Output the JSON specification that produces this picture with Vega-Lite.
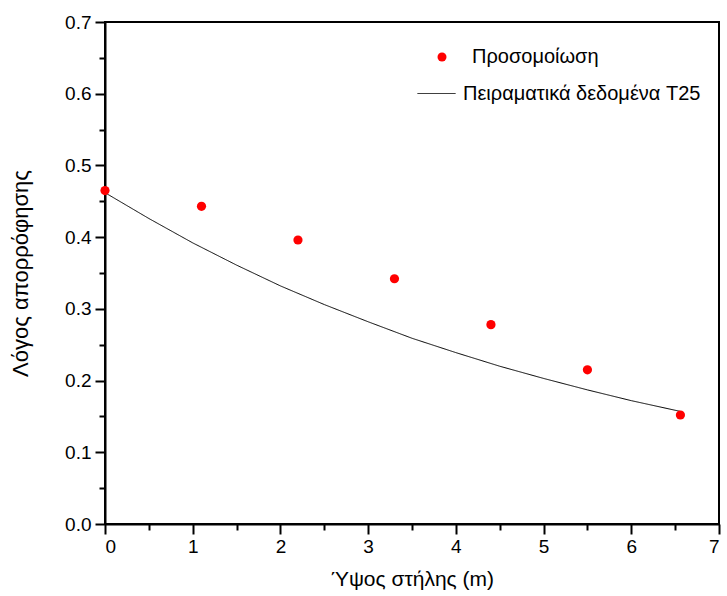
{
  "$schema": "https://vega.github.io/schema/vega-lite/v6.json",
  "width": 614,
  "height": 502,
  "autosize": {"type": "none"},
  "padding": {"left": 105, "top": 22, "right": 8, "bottom": 72},
  "background": "white",
  "config": {
    "font": "Liberation Sans",
    "view": {"stroke": "black", "strokeWidth": 2},
    "legend": {"padding": 0, "labelFont": "Liberation Sans", "labelFontSize": 20, "labelColor": "black", "labelLimit": 400}
  },
  "datasets": {
    "sim": [
      {"h": 0.0, "r": 0.465, "series": "Προσομοίωση"},
      {"h": 1.1, "r": 0.443, "series": "Προσομοίωση"},
      {"h": 2.2, "r": 0.396, "series": "Προσομοίωση"},
      {"h": 3.3, "r": 0.342, "series": "Προσομοίωση"},
      {"h": 4.4, "r": 0.278, "series": "Προσομοίωση"},
      {"h": 5.5, "r": 0.215, "series": "Προσομοίωση"},
      {"h": 6.56, "r": 0.152, "series": "Προσομοίωση"}
    ],
    "exp": [
      {"h": 0.0, "r": 0.462, "series": "Πειραματικά δεδομένα T25"},
      {"h": 0.5, "r": 0.426, "series": "Πειραματικά δεδομένα T25"},
      {"h": 1.0, "r": 0.392, "series": "Πειραματικά δεδομένα T25"},
      {"h": 1.5, "r": 0.361, "series": "Πειραματικά δεδομένα T25"},
      {"h": 2.0, "r": 0.332, "series": "Πειραματικά δεδομένα T25"},
      {"h": 2.5, "r": 0.306, "series": "Πειραματικά δεδομένα T25"},
      {"h": 3.0, "r": 0.282, "series": "Πειραματικά δεδομένα T25"},
      {"h": 3.5, "r": 0.259, "series": "Πειραματικά δεδομένα T25"},
      {"h": 4.0, "r": 0.239, "series": "Πειραματικά δεδομένα T25"},
      {"h": 4.5, "r": 0.220, "series": "Πειραματικά δεδομένα T25"},
      {"h": 5.0, "r": 0.203, "series": "Πειραματικά δεδομένα T25"},
      {"h": 5.5, "r": 0.187, "series": "Πειραματικά δεδομένα T25"},
      {"h": 6.0, "r": 0.172, "series": "Πειραματικά δεδομένα T25"},
      {"h": 6.56, "r": 0.157, "series": "Πειραματικά δεδομένα T25"}
    ]
  },
  "resolve": {"axis": {"x": "independent", "y": "independent"}},
  "layer": [
    {
      "data": {"name": "exp"},
      "mark": {"type": "line", "strokeWidth": 1, "color": "black"},
      "encoding": {
        "x": {"field": "h", "type": "quantitative", "scale": {"domain": [0, 7], "nice": false},
              "axis": {"title": "Ύψος στήλης (m)", "values": [0,1,2,3,4,5,6,7], "grid": false, "domainColor": "black", "domainWidth": 2, "tickColor": "black", "tickWidth": 2, "tickSize": 10, "labelColor": "black", "labelFont": "Liberation Sans", "labelFontSize": 19, "labelPadding": 3, "titleColor": "black", "titleFont": "Liberation Sans", "titleFontSize": 21, "titleFontWeight": "normal", "titlePadding": 12}},
        "y": {"field": "r", "type": "quantitative", "scale": {"domain": [0, 0.7], "nice": false},
              "axis": {"title": "Λόγος απορρόφησης", "values": [0,0.1,0.2,0.3,0.4,0.5,0.6,0.7], "format": ".1f", "grid": false, "domainColor": "black", "domainWidth": 2, "tickColor": "black", "tickWidth": 2, "tickSize": 10, "labelColor": "black", "labelFont": "Liberation Sans", "labelFontSize": 19, "labelPadding": 4, "titleColor": "black", "titleFont": "Liberation Sans", "titleFontSize": 22, "titleFontWeight": "normal", "titlePadding": 32}},
        "strokeDash": {"field": "series", "type": "nominal",
                  "scale": {"domain": ["Πειραματικά δεδομένα T25"], "range": [[1, 0]]},
                  "legend": {"title": null, "orient": "none", "legendX": 312, "legendY": 52, "symbolSize": 1444, "symbolStrokeWidth": 1, "symbolStrokeColor": "black", "labelOffset": 7}}
      }
    },
    {
      "data": {"name": "sim"},
      "mark": {"type": "point", "filled": true, "size": 85, "opacity": 1},
      "encoding": {
        "x": {"field": "h", "type": "quantitative", "axis": {"orient": "bottom", "values": [0.5,1.5,2.5,3.5,4.5,5.5,6.5], "labels": false, "title": null, "grid": false, "tickColor": "black", "tickWidth": 2, "tickSize": 6, "domain": false}},
        "y": {"field": "r", "type": "quantitative", "axis": {"orient": "left", "values": [0.05,0.15,0.25,0.35,0.45,0.55,0.65], "labels": false, "title": null, "grid": false, "tickColor": "black", "tickWidth": 2, "tickSize": 6, "domain": false}},
        "color": {"field": "series", "type": "nominal",
                  "scale": {"domain": ["Προσομοίωση"], "range": ["red"]},
                  "legend": {"title": null, "orient": "none", "legendX": 327, "legendY": 25, "symbolSize": 81, "symbolOpacity": 1, "labelOffset": 20}}
      }
    }
  ]
}
